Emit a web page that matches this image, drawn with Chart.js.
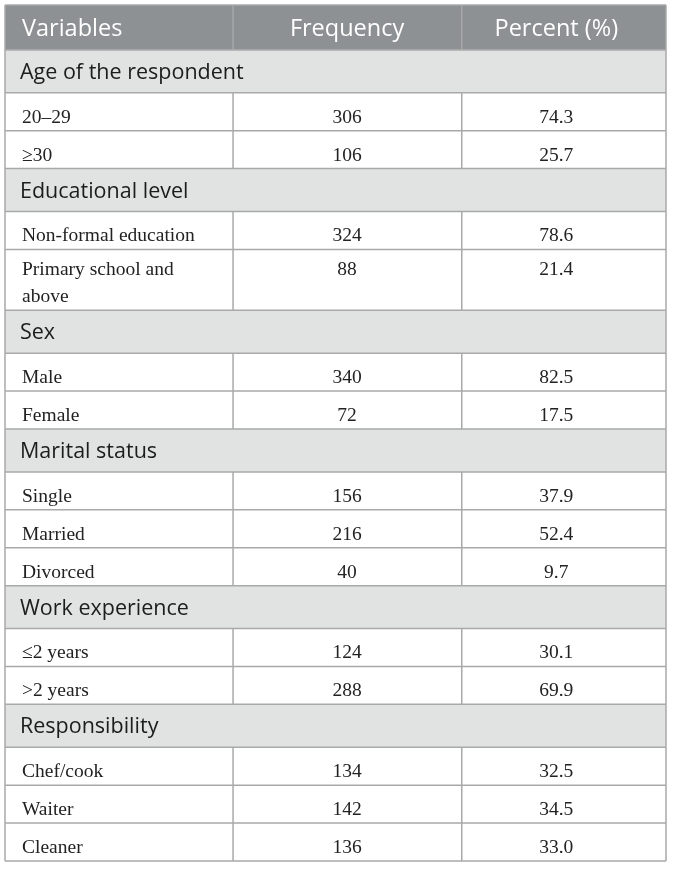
<!DOCTYPE html>
<html>
<head>
<meta charset="utf-8">
<script src="https://cdn.jsdelivr.net/npm/chart.js@4.4.1/dist/chart.umd.min.js"></script>
<style>
  html, body { margin: 0; padding: 0; background: #ffffff; }
  #wrap { width: 673px; height: 869px; position: relative; }
</style>
</head>
<body>
<div id="wrap"><canvas id="tableChart"></canvas></div>
<script>
// datos de la tabla
const headers = ["Variables", "Frequency", "Percent (%)"];
const groupLabels = ["Age of the respondent", "Educational level", "Sex", "Marital status", "Work experience", "Responsibility"];
const variables = ["20–29", "≥30", "Non-formal education", "Primary school and above", "Male", "Female",
  "Single", "Married", "Divorced", "≤2 years", ">2 years", "Chef/cook", "Waiter", "Cleaner"];
const groupOf = [0, 0, 1, 1, 2, 2, 3, 3, 3, 4, 4, 5, 5, 5];
const frequency = [306, 106, 324, 88, 340, 72, 156, 216, 40, 124, 288, 134, 142, 136];
const percent = ["74.3", "25.7", "78.6", "21.4", "82.5", "17.5", "37.9", "52.4", "9.7", "30.1", "69.9", "32.5", "34.5", "33.0"];

// estilo
const colEdges = [0, 0.345, 0.691, 1];
const colCenters = [null, 0.5175, 0.834];
const fontHeader = '400 23.5px "Open Sans"';
const fontSection = '400 21.5px "Open Sans"';
const fontData = '19.5px "Liberation Serif"';
const wrapWidth = 200;
const lineH = 27;

function wrapText(ctx, text, maxW) {
  const words = text.split(" ");
  const lines = [];
  let cur = "";
  words.forEach(w => {
    const test = cur ? cur + " " + w : w;
    if (cur && ctx.measureText(test).width > maxW) {
      lines.push(cur);
      cur = w;
    } else {
      cur = test;
    }
  });
  if (cur) lines.push(cur);
  return lines;
}

// construir filas
const measureCtx = document.createElement("canvas").getContext("2d");
measureCtx.font = fontData;
const rows = [{ kind: "header", h: 45 }];
groupLabels.forEach((g, gi) => {
  rows.push({ kind: "section", text: g, h: 43 });
  variables.forEach((v, i) => {
    if (groupOf[i] !== gi) return;
    const lines = wrapText(measureCtx, v, wrapWidth);
    rows.push({ kind: "data", i: i, lines: lines, h: 38 + (lines.length - 1) * 23 });
  });
});
let acc = 0;
rows.forEach(r => { r.start = acc; acc += r.h; r.end = acc; });
const totalUnits = acc;

const tablePlugin = {
  id: "tablePlugin",
  beforeDatasetsDraw(chart) {
    const ctx = chart.ctx;
    const x = chart.scales.x;
    const y = chart.scales.y;
    const xl = x.getPixelForValue(0);
    const xr = x.getPixelForValue(1);
    const xc = colEdges.map(v => x.getPixelForValue(v));
    ctx.save();

    rows.forEach(r => {
      const top = y.getPixelForValue(r.start);
      const bot = y.getPixelForValue(r.end);
      ctx.fillStyle = r.kind === "header" ? "#8e9193" : (r.kind === "section" ? "#e1e2e2" : "#ffffff");
      ctx.fillRect(xl, top, xr - xl, bot - top);

      // divisores verticales
      if (r.kind !== "section") {
        ctx.strokeStyle = r.kind === "header" ? "#a5a7a9" : "#a9a9a9";
        ctx.lineWidth = 1.5;
        [1, 2].forEach(k => {
          ctx.beginPath();
          ctx.moveTo(xc[k], top);
          ctx.lineTo(xc[k], bot);
          ctx.stroke();
        });
      }

      ctx.textBaseline = "alphabetic";
      if (r.kind === "header") {
        ctx.font = fontHeader;
        ctx.fillStyle = "#ffffff";
        ctx.textAlign = "left";
        ctx.fillText(headers[0], xl + 17, bot - 14);
        ctx.textAlign = "center";
        ctx.fillText(headers[1], x.getPixelForValue(colCenters[1]), bot - 14);
        ctx.fillText(headers[2], x.getPixelForValue(colCenters[2]), bot - 14);
      } else if (r.kind === "section") {
        ctx.font = fontSection;
        ctx.fillStyle = "#1c1c1c";
        ctx.textAlign = "left";
        ctx.fillText(r.text, xl + 15, bot - 14);
      } else {
        ctx.font = fontData;
        ctx.fillStyle = "#222222";
        ctx.textAlign = "left";
        const n = r.lines.length;
        r.lines.forEach((ln, li) => {
          ctx.fillText(ln, xl + 17, bot - 8 - (n - 1 - li) * lineH);
        });
        const firstBase = bot - 8 - (n - 1) * lineH;
        ctx.textAlign = "center";
        ctx.fillText(String(frequency[r.i]), x.getPixelForValue(colCenters[1]), firstBase);
        ctx.fillText(percent[r.i], x.getPixelForValue(colCenters[2]), firstBase);
      }
    });

    // lineas horizontales
    ctx.strokeStyle = "#a9a9a9";
    ctx.lineWidth = 1.5;
    rows.forEach((r, k) => {
      if (k === 0) return;
      const yy = y.getPixelForValue(r.start);
      ctx.beginPath();
      ctx.moveTo(xl, yy);
      ctx.lineTo(xr, yy);
      ctx.stroke();
    });
    const yTop = y.getPixelForValue(0);
    const yBot = y.getPixelForValue(totalUnits);
    ctx.beginPath();
    ctx.moveTo(xl, yBot);
    ctx.lineTo(xr, yBot);
    ctx.moveTo(xl, yTop);
    ctx.lineTo(xr, yTop);
    ctx.moveTo(xl, yTop);
    ctx.lineTo(xl, yBot);
    ctx.moveTo(xr, yTop);
    ctx.lineTo(xr, yBot);
    ctx.stroke();
    ctx.restore();
  }
};

const ctx = document.getElementById("tableChart").getContext("2d");
window.tableChartInstance = new Chart(ctx, {
  type: "scatter",
  data: { datasets: [{ data: [] }] },
  options: {
    responsive: true,
    maintainAspectRatio: false,
    animation: false,
    layout: { padding: { left: 5, right: 7, top: 5, bottom: 8 } },
    plugins: { legend: { display: false }, tooltip: { enabled: false } },
    scales: {
      x: { type: "linear", min: 0, max: 1, display: false },
      y: { type: "linear", min: 0, max: totalUnits, reverse: true, display: false }
    }
  },
  plugins: [tablePlugin]
});
</script>
</body>
</html>
